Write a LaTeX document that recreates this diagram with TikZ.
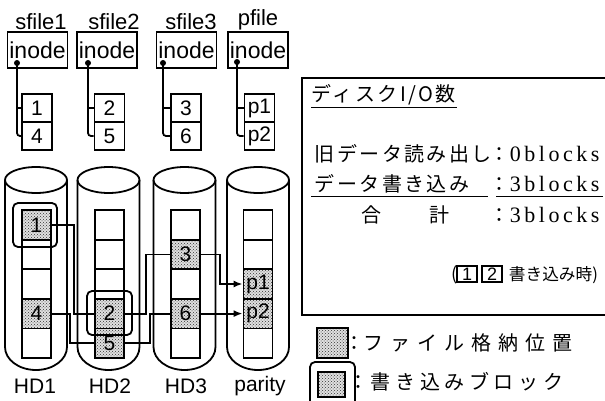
\documentclass[tikz,border=0pt]{standalone}
\usepackage{fontspec}
\setmainfont{Liberation Sans}
\newfontfamily\jpfont{Noto Sans CJK JP}
\newfontfamily\jpA{Noto Sans CJK JP}[LetterSpace=12]
\newfontfamily\jpB{Noto Sans CJK JP}[LetterSpace=35]
\newfontfamily\jpC{Noto Sans CJK JP}[LetterSpace=23]
\newfontfamily\serifnum{Liberation Serif}[LetterSpace=16]
\usetikzlibrary{patterns,arrows.meta}
\begin{document}
\begin{tikzpicture}[x=1pt,y=-1pt,line width=1.8pt,
  blk/.style={draw,minimum width=29pt,minimum height=29.6pt,inner sep=0pt,font=\fontsize{21}{21}\selectfont},
  fblk/.style={blk,preaction={fill=black!12},pattern=crosshatch dots,pattern color=black!80},
  sblk/.style={draw,minimum width=30pt,minimum height=28pt,inner sep=0pt,font=\fontsize{21}{21}\selectfont},
  inodebox/.style={draw,minimum width=60pt,minimum height=36pt,inner sep=0pt,font=\fontsize{23}{23}\selectfont},
  flabel/.style={inner sep=0pt,font=\fontsize{22}{22}\selectfont},
  hdlabel/.style={inner sep=0pt,font=\fontsize{21}{21}\selectfont},
  dotn/.style={circle,fill,inner sep=0pt,minimum size=6pt},
  ptr/.style={line width=1.8pt},
  link/.style={line width=1.8pt},
  arr/.style={link,-{Latex[length=9pt,width=7pt]}},
  jt/.style={inner sep=0pt,anchor=base west,font=\jpA\fontsize{20}{20}\selectfont},
  bl/.style={inner sep=0pt,anchor=base west,font=\serifnum\fontsize{22}{22}\selectfont},
  colon/.style={inner sep=0pt,anchor=base,font=\jpfont\fontsize{20}{20}\selectfont},
  hl/.style={rounded corners=5pt,line width=1.8pt},
  ul/.style={line width=1.4pt},
  lgbox/.style={draw,inner sep=0pt,preaction={fill=black!12},pattern=crosshatch dots,pattern color=black!80},
  smallbox/.style={draw,minimum width=20pt,minimum height=16pt,inner sep=0pt,line width=1.4pt,font=\fontsize{18}{18}\selectfont}
]
\useasboundingbox (0,0) rectangle (605,401);
\clip (0,0) rectangle (605,401);

% ---- file labels and inode boxes
\node[flabel] (l1) at (41,22) {sfile1};
\node[flabel] (l2) at (114,22) {sfile2};
\node[flabel] (l3) at (191,22) {sfile3};
\node[flabel] (l4) at (258,20) {pfile};
\node[inodebox] (i1) at (37.5,50) {inode};
\node[inodebox] (i2) at (107,50) {inode};
\node[inodebox] (i3) at (186.5,50) {inode};
\node[inodebox] (i4) at (258,50) {inode};
\node[dotn] (d1) at (17,63) {};
\node[dotn] (d2) at (88,63) {};
\node[dotn] (d3) at (163,63) {};
\node[dotn] (d4) at (237,62) {};

% ---- block lists
\node[sblk] (a1) at (37,108) {1};
\node[sblk] (a4) at (37,136) {4};
\node[sblk] (a2) at (109.5,108) {2};
\node[sblk] (a5) at (109.5,136) {5};
\node[sblk] (a3) at (186,108) {3};
\node[sblk] (a6) at (186,136) {6};
\node[sblk] (ap1) at (259.5,108) {p1};
\node[sblk] (ap2) at (259.5,136) {p2};
\foreach \d/\u/\v in {d1/a1/a4,d2/a2/a5,d3/a3/a6,d4/ap1/ap2}{
  \draw[ptr] (\d.center) |- (\u.west);
  \draw[ptr,rounded corners=3pt] (\d.center) |- (\v.west);
}

% ---- cylinders
\foreach \cx in {36,108.5,184.5,258}{
  \draw (\cx,180) ellipse [x radius=31,y radius=13];
  \draw (\cx-31,180) -- (\cx-31,347) arc [start angle=180,end angle=0,x radius=31,y radius=23] -- (\cx+31,180);
}
\node[hdlabel] (h1) at (35,386) {HD1};
\node[hdlabel] (h2) at (110,386) {HD2};
\node[hdlabel] (h3) at (186,386) {HD3};
\node[hdlabel] (h4) at (260,386) {parity};

% ---- disk blocks (rows at 224.8, 254.4, 284, 313.6, 343.2)
% HD1
\node[fblk] (b1) at (36.5,224.8) {1};
\node[blk] (e11) at (36.5,254.4) {};
\node[blk] (e12) at (36.5,284) {};
\node[fblk] (b4) at (36.5,313.6) {4};
\node[blk] (e13) at (36.5,343.2) {};
% HD2
\node[blk] (e21) at (109.5,224.8) {};
\node[blk] (e22) at (109.5,254.4) {};
\node[blk] (e23) at (109.5,284) {};
\node[fblk] (b2) at (109.5,313.6) {2};
\node[fblk] (b5) at (109.5,343.2) {5};
% HD3
\node[blk] (e31) at (185.5,224.8) {};
\node[fblk] (b3) at (185.5,254.4) {3};
\node[blk] (e32) at (185.5,284) {};
\node[fblk] (b6) at (185.5,313.6) {6};
\node[blk] (e33) at (185.5,343.2) {};
% parity
\node[blk] (e41) at (258,224.8) {};
\node[blk] (e42) at (258,254.4) {};
\node[fblk] (p1) at (258,284) {p1};
\node[fblk] (p2) at (258,313.6) {p2};
\node[blk] (e43) at (258,343.2) {};

% write-block highlights
\draw[hl] (13,203) rectangle (57,247);
\draw[hl] (87,291) rectangle (132,335);

% ---- connectors
\draw[link] (b1.east) -- ++(22,0) |- (b2.west);
\draw[link] (b2.east) -- ++(21,0) |- (b3.west);
\draw[arr] (b3.east) -- ++(19,0) |- (p1.west);
\draw[link] (b4.east) -- ++(18,0) |- (b5.west);
\draw[link] (b5.east) -- ++(25,0) |- (b6.west);
\draw[arr] (b6.east) -- (p2.west);

% ---- panel
\draw[line width=1.5pt] (607,78) -- (302,78) -- (302,315) -- (607,315);
\node[jt] (t1) at (311,102) {ディスクI/O数};
\draw[ul] (311,107.5) -- (457,107.5);

\node[jt] (t2) at (314,161) {旧データ読み出し};
\node[colon] (c2) at (499,161) {：};
\node[bl] (v2) at (509,161) {0blocks};

\node[jt] (t3) at (314,191) {データ書き込み};
\node[colon] (c3) at (499,191) {：};
\node[bl] (v3) at (509,191) {3blocks};
\draw[ul] (311,196.5) -- (488,196.5);
\draw[ul] (496,196.5) -- (603,196.5);

\node[jt] (t4a) at (361,222) {合};
\node[jt] (t4b) at (429,222) {計};
\node[colon] (c4) at (499,222) {：};
\node[bl] (v4) at (509,222) {3blocks};

\node[inner sep=0pt,anchor=base west,font=\jpfont\fontsize{18}{18}\selectfont] (t5a) at (451,280) {(};
\node[smallbox] (s1) at (467,274) {1};
\node[smallbox] (s2) at (492,274) {2};
\node[inner sep=0pt,anchor=base west] (t5b) at (508,280) {\resizebox{89pt}{!}{\jpfont\fontsize{20}{20}\selectfont 書き込み時)}};

% ---- legend
\node[lgbox,minimum width=31pt,minimum height=30pt] (lg1) at (332.5,343) {};
\node[colon] (lc1) at (354,350) {：};
\node[inner sep=0pt,anchor=base west,font=\jpB\fontsize{20}{20}\selectfont] (lt1) at (363,350) {ファイル格納位置};

\draw[hl] (310,410) -- (310,362) -- (355,362) -- (355,410);
\node[lgbox,minimum width=27pt,minimum height=25pt] (lg2) at (331.5,384.5) {};
\node[colon] (lc2) at (358,389) {：};
\node[inner sep=0pt,anchor=base west,font=\jpC\fontsize{20}{20}\selectfont] (lt2) at (370,389) {書き込みブロック};
\end{tikzpicture}
\end{document}
